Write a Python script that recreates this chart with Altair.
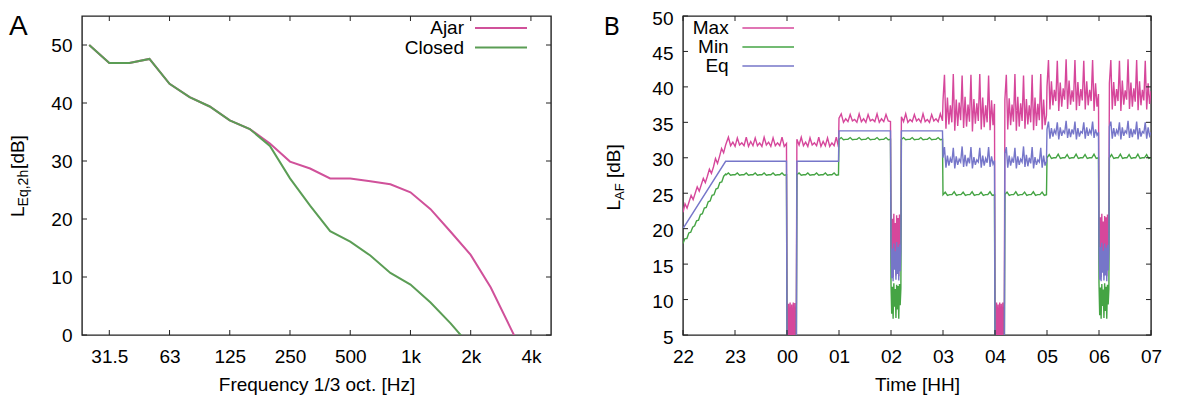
import json
import altair as alt
import pandas as pd

FONT = "Liberation Sans"
FRAME = "#222222"

# ---------------- Panel A : 1/3-octave spectrum ----------------
BAND_INDEX = list(range(23))
BAND_LABELS = ["25", "31.5", "40", "50", "63", "80", "100", "125", "160", "200",
               "250", "315", "400", "500", "630", "800", "1k", "1.25k", "1.6k",
               "2k", "2.5k", "3.15k", "4k"]
AJAR = [50.0, 46.9, 46.9, 47.6, 43.3, 41.0, 39.4, 37.0, 35.5, 33.0, 29.9, 28.7,
        27.0, 27.0, 26.5, 26.0, 24.6, 21.7, 17.8, 13.8, 8.2, 1.1, -6.0]
CLOSED = [50.0, 46.9, 46.9, 47.6, 43.3, 41.0, 39.4, 37.0, 35.5, 32.6, 27.0, 22.3,
          17.9, 16.1, 13.7, 10.7, 8.7, 5.6, 2.0, -2.0]
A_TICK_INDEX = [1, 4, 7, 10, 13, 16, 19, 22]
A_TICK_LABELS = ["31.5", "63", "125", "250", "500", "1k", "2k", "4k"]
A_Y_TICKS = [0, 10, 20, 30, 40, 50]
A_SERIES = ["Ajar", "Closed"]
A_COLORS = ["#d0519a", "#5b9d55"]

# ---------------- Panel B : time series (hours after 22:00) ----------------
B_HOUR_TICKS = list(range(10))
B_HOUR_LABELS = ["22", "23", "00", "01", "02", "03", "04", "05", "06", "07"]
B_Y_TICKS = [5, 10, 15, 20, 25, 30, 35, 40, 45, 50]
B_SERIES = ["Max", "Min", "Eq"]
B_COLORS = ["#d6479b", "#45a444", "#7676c9"]

MAX_SEGMENTS = [
    (0.0, 0.82, [22.3, 23.5, 22.9, 23.8, 24.7, 24.1, 25.0, 25.9, 25.3, 26.2, 27.1,
                 26.5, 27.4, 28.4, 27.8, 28.7, 29.9, 29.2, 30.2, 31.3, 30.7, 31.8]),
    (0.83, 1.99, [32.0, 32.9, 31.7, 32.2, 31.6, 32.8, 31.8, 32.1, 31.7, 32.9, 31.6, 32.3,
                  31.7, 32.8, 31.7, 32.1, 31.6, 32.9, 31.8, 32.2, 31.6, 32.8, 31.7, 32.1,
                  31.7, 32.9, 31.6, 32.0]),
    (2.0, 2.18, [9.6, 3.0, 9.4, 2.0, 9.6, 3.5, 9.3, 2.2, 9.6, 3.0, 9.5, 2.4, 9.6]),
    (2.19, 2.99, [32.6, 31.8, 32.9, 31.7, 32.2, 31.6, 32.8, 31.8, 32.1, 31.7, 32.9, 31.6,
                  32.3, 31.7, 32.8, 31.6, 32.1, 31.7, 32.9, 31.5]),
    (3.0, 3.99, [35.6, 36.2, 35.0, 35.5, 35.1, 36.1, 35.2, 35.4, 35.0, 36.2, 35.1, 35.5,
                 35.0, 36.1, 35.2, 35.4, 35.1, 36.2, 35.0, 35.5, 35.1, 36.1, 35.2, 35.1]),
    (4.0, 4.19, [22.0, 14.0, 21.4, 13.2, 22.1, 15.2, 20.8, 13.4, 21.9, 14.6, 21.5, 13.3,
                 22.0, 15.0, 21.2]),
    (4.2, 4.99, [35.8, 35.1, 36.2, 35.0, 35.4, 35.1, 36.1, 35.2, 35.5, 35.0, 36.2, 35.1,
                 35.4, 35.0, 36.1, 35.2, 35.5, 35.1, 36.2, 35.2]),
    (5.0, 5.99, [38.0, 41.7, 34.1, 38.5, 34.7, 37.4, 35.0, 41.8, 33.8, 38.2, 34.5, 37.8,
                 35.3, 41.6, 34.2, 38.6, 34.4, 37.5, 35.1, 41.7, 33.7, 38.3, 34.8, 37.7,
                 35.2, 41.8, 34.0, 38.5, 34.3, 37.4, 35.0, 41.6, 33.9, 38.1, 34.6, 37.6]),
    (6.0, 6.18, [9.5, 2.5, 9.6, 3.2, 9.3, 2.0, 9.6, 3.4, 9.4, 2.3, 9.6, 3.0, 9.5]),
    (6.19, 6.99, [38.2, 41.7, 34.0, 38.4, 34.6, 37.5, 35.1, 41.8, 33.8, 38.6, 34.4, 37.7,
                  35.2, 41.6, 34.1, 38.3, 34.7, 37.4, 35.0, 41.7, 33.9, 38.5, 34.5, 37.6,
                  35.3, 41.8, 34.0, 38.2, 34.6, 36.0]),
    (7.0, 7.99, [40.0, 43.8, 36.8, 40.8, 37.4, 39.6, 38.0, 43.7, 36.6, 40.6, 37.2, 39.8,
                 38.2, 43.9, 36.9, 40.9, 37.5, 39.5, 37.9, 43.8, 36.7, 40.7, 37.3, 39.7,
                 38.1, 43.7, 36.8, 40.8, 37.4, 39.6, 38.0, 43.8, 36.6, 40.5, 37.2, 39.0]),
    (8.0, 8.19, [22.0, 13.6, 21.6, 13.2, 22.1, 14.8, 21.0, 13.4, 21.8, 14.4, 21.6, 13.3,
                 22.0, 14.9, 21.3]),
    (8.2, 9.0, [40.5, 43.8, 36.8, 40.7, 37.3, 39.7, 38.0, 43.7, 36.6, 40.9, 37.5, 39.5,
                38.2, 43.9, 36.9, 40.6, 37.2, 39.8, 37.9, 43.8, 36.7, 40.8, 37.4, 39.6,
                38.1, 43.7, 36.8, 40.5, 37.6, 39.4]),
]

EQ_SEGMENTS = [
    (0.0, 0.82, [20.0, 29.5]),
    (0.83, 1.99, [29.5, 29.5]),
    (2.0, 2.18, [2.0, 2.0]),
    (2.19, 2.99, [29.5, 29.5]),
    (3.0, 3.99, [33.8, 33.8]),
    (4.0, 4.19, [18.0, 13.0, 17.2, 12.6, 17.9, 14.2, 16.8, 12.8, 18.1, 13.6, 17.4, 12.7,
                 17.8, 14.0, 16.9]),
    (4.2, 4.99, [33.8, 33.8]),
    (5.0, 5.99, [30.0, 31.5, 28.6, 30.3, 28.9, 29.9, 29.3, 31.4, 28.5, 30.2, 29.0, 29.8,
                 29.4, 31.6, 28.7, 30.4, 28.8, 30.0, 29.2, 31.5, 28.5, 30.1, 29.0, 29.7,
                 29.4, 31.4, 28.6, 30.3, 28.9, 29.9, 29.3, 31.5, 28.7, 30.2, 29.1, 29.6]),
    (6.0, 6.18, [2.0, 2.0]),
    (6.19, 6.99, [30.6, 31.5, 28.6, 30.3, 28.9, 29.9, 29.3, 31.4, 28.5, 30.2, 29.0, 29.8,
                  29.4, 31.6, 28.7, 30.4, 28.8, 30.0, 29.2, 31.5, 28.5, 30.1, 29.0, 29.7,
                  29.4, 31.4, 28.6, 30.3, 28.9, 29.5]),
    (7.0, 7.99, [34.0, 35.1, 32.7, 34.2, 33.0, 33.9, 33.4, 35.0, 32.6, 34.3, 33.1, 33.8,
                 33.5, 35.2, 32.8, 34.1, 32.9, 34.0, 33.3, 35.1, 32.6, 34.2, 33.0, 33.7,
                 33.5, 35.0, 32.7, 34.3, 33.1, 33.9, 33.4, 35.1, 32.8, 34.0, 33.2, 33.6]),
    (8.0, 8.19, [17.8, 12.8, 17.4, 12.6, 18.0, 13.8, 16.9, 12.7, 17.9, 13.4, 17.3, 12.6,
                 17.7, 14.1, 16.8]),
    (8.2, 9.0, [34.4, 35.1, 32.7, 34.2, 33.0, 33.9, 33.4, 35.0, 32.6, 34.3, 33.1, 33.8,
                33.5, 35.2, 32.8, 34.1, 32.9, 34.0, 33.3, 35.1, 32.6, 34.2, 33.0, 33.7,
                33.5, 35.0, 32.7, 34.3, 33.1, 33.6]),
]

MIN_SEGMENTS = [
    (0.0, 0.82, [17.9, 18.6, 18.6, 19.4, 19.5, 20.2, 20.4, 21.1, 21.2, 22.0, 22.1, 22.9,
                 23.0, 23.8, 23.9, 24.7, 24.8, 25.6, 25.7, 26.5, 26.6, 27.4, 27.7]),
    (0.83, 1.99, [27.6, 27.85, 27.55, 27.6, 27.6, 27.85, 27.55, 27.6, 27.6, 27.85, 27.55,
                  27.6, 27.6, 27.85, 27.55, 27.6, 27.6, 27.85, 27.55, 27.6, 27.6, 27.85,
                  27.55, 27.6, 27.6, 27.85, 27.55, 27.6]),
    (2.0, 2.18, [2.0, 2.0]),
    (2.19, 2.99, [27.6, 27.85, 27.55, 27.6, 27.6, 27.85, 27.55, 27.6, 27.6, 27.85, 27.55,
                  27.6, 27.6, 27.85, 27.55, 27.6, 27.6, 27.85, 27.55, 27.6]),
    (3.0, 3.99, [32.6, 32.85, 32.55, 32.6, 32.6, 32.85, 32.55, 32.6, 32.6, 32.85, 32.55,
                 32.6, 32.6, 32.85, 32.55, 32.6, 32.6, 32.85, 32.55, 32.6, 32.6, 32.85,
                 32.55, 32.6]),
    (4.0, 4.19, [12.2, 8.0, 11.8, 7.3, 12.3, 9.0, 11.5, 7.4, 12.1, 8.6, 11.9, 7.3, 12.2,
                 9.2, 11.6]),
    (4.2, 4.99, [32.6, 32.85, 32.55, 32.6, 32.6, 32.85, 32.55, 32.6, 32.6, 32.85, 32.55,
                 32.6, 32.6, 32.85, 32.55, 32.6, 32.6, 32.85, 32.55, 32.6]),
    (5.0, 5.99, [24.8, 25.15, 24.7, 24.8, 24.8, 25.2, 24.7, 24.8, 24.8, 25.15, 24.7, 24.8,
                 24.8, 25.2, 24.7, 24.8, 24.8, 25.15, 24.7, 24.8, 24.8, 25.2, 24.7, 24.8]),
    (6.0, 6.18, [2.0, 2.0]),
    (6.19, 6.99, [24.8, 25.15, 24.7, 24.8, 24.8, 25.2, 24.7, 24.8, 24.8, 25.15, 24.7,
                  24.8, 24.8, 25.2, 24.7, 24.8, 24.8, 25.15, 24.7, 24.8]),
    (7.0, 7.99, [30.0, 30.45, 29.9, 30.0, 30.0, 30.5, 29.9, 30.0, 30.0, 30.45, 29.9, 30.0,
                 30.0, 30.5, 29.9, 30.0, 30.0, 30.45, 29.9, 30.0, 30.0, 30.5, 29.9, 30.0]),
    (8.0, 8.19, [12.3, 7.8, 11.7, 7.3, 12.2, 9.1, 11.4, 7.4, 12.3, 8.4, 11.8, 7.3, 12.1,
                 9.3, 11.5]),
    (8.2, 9.0, [30.0, 30.45, 29.9, 30.0, 30.0, 30.5, 29.9, 30.0, 30.0, 30.45, 29.9, 30.0,
                30.0, 30.5, 29.9, 30.0, 30.0, 30.45, 29.9, 30.0]),
]

# ---------------- helpers ----------------
W_A, W_B, H = 469, 468, 319
TICK = 5


def seg_frame(segments):
    ts, vs = [], []
    for t0, t1, vals in segments:
        n = len(vals)
        for i, v in enumerate(vals):
            ts.append(t0 + (t1 - t0) * i / (n - 1))
            vs.append(v)
    return pd.DataFrame({"x": ts, "y": vs})


def axis_common(**kw):
    base = dict(ticks=False, tickSize=0, domain=False, grid=False,
                labelFont=FONT, labelFontSize=19, labelColor="black",
                titleFont=FONT, titleFontSize=19, titleColor="black",
                titleFontWeight="normal", labelOverlap=False, labelFlush=False)
    base.update(kw)
    return alt.Axis(**base)


def one(label):
    return pd.DataFrame({"t": [label]})


def frame_ticks(xenc, yenc, xvals, yvals, w):
    dx = pd.DataFrame({"x": xvals})
    dy = pd.DataFrame({"y": yvals})
    r = dict(color=FRAME, strokeWidth=1)
    return [
        alt.Chart(dx).mark_rule(**r).encode(x=xenc, y=alt.value(H), y2=alt.value(H - TICK)),
        alt.Chart(dx).mark_rule(**r).encode(x=xenc, y=alt.value(0), y2=alt.value(TICK)),
        alt.Chart(dy).mark_rule(**r).encode(y=yenc, x=alt.value(0), x2=alt.value(TICK)),
        alt.Chart(dy).mark_rule(**r).encode(y=yenc, x=alt.value(w), x2=alt.value(w - TICK)),
    ]


def text_at(label, x, y, size=19, align="left", baseline="alphabetic", angle=0, font=FONT):
    props = dict(align=align, baseline=baseline, font=font, fontSize=size, color="black")
    if angle:
        props["angle"] = angle
    return alt.Chart(one(label)).mark_text(**props).encode(
        x=alt.value(x), y=alt.value(y), text="t:N")


def legend_entry(label, color, xt, x1, x2, y, width):
    return [
        text_at(label, xt, y, align="right", baseline="middle"),
        alt.Chart(one(label)).mark_rule(color=color, strokeWidth=width).encode(
            x=alt.value(x1), x2=alt.value(x2), y=alt.value(y)),
    ]


# ---------------- Panel A ----------------
xA = alt.X("x:Q",
           scale=alt.Scale(domain=[-0.36, 23.0], nice=False, zero=False),
           axis=axis_common(values=A_TICK_INDEX,
                            labelExpr="%s[indexof(%s, datum.value)]" % (
                                json.dumps(A_TICK_LABELS), json.dumps(A_TICK_INDEX)),
                            title="Frequency 1/3 oct. [Hz]",
                            labelPadding=12.5, titlePadding=9))
yA = alt.Y("y:Q",
           scale=alt.Scale(domain=[0, 55], nice=False, zero=False),
           axis=axis_common(values=A_Y_TICKS, title=None, labelPadding=10))

layers_a = []
for name, vals, col in zip(A_SERIES, [AJAR, CLOSED], A_COLORS):
    df = pd.DataFrame({"x": BAND_INDEX[:len(vals)], "y": vals})
    layers_a.append(alt.Chart(df).mark_line(color=col, strokeWidth=2, clip=True)
                    .encode(x=xA, y=yA))
layers_a += frame_ticks(xA, yA, A_TICK_INDEX, A_Y_TICKS, W_A)
for i, (name, col) in enumerate(zip(A_SERIES, A_COLORS)):
    layers_a += legend_entry(name, col, 382, 393, 445, 12 + 19.6 * i, 2)
layers_a.append(text_at("A", -73, 18.5, size=28))
layers_a.append(text_at("L", -58, 201, angle=270))
layers_a.append(text_at("Eq,2h", -54, 190.4, size=14, angle=270))
layers_a.append(text_at("[dB]", -58, 152.9, angle=270))

panel_a = alt.layer(*layers_a).properties(width=W_A, height=H)

# ---------------- Panel B ----------------
xB = alt.X("x:Q",
           scale=alt.Scale(domain=[0, 9], nice=False, zero=False),
           axis=axis_common(values=B_HOUR_TICKS,
                            labelExpr="%s[datum.value]" % json.dumps(B_HOUR_LABELS),
                            title="Time [HH]", labelPadding=12.5, titlePadding=9))
yB = alt.Y("y:Q",
           scale=alt.Scale(domain=[5, 50], nice=False, zero=False),
           axis=axis_common(values=B_Y_TICKS, title=None, labelPadding=10, labelOffset=2))

layers_b = []
for segs, col in zip([MAX_SEGMENTS, MIN_SEGMENTS, EQ_SEGMENTS], B_COLORS):
    layers_b.append(alt.Chart(seg_frame(segs)).mark_line(color=col, strokeWidth=1.4, clip=True)
                    .encode(x=xB, y=yB))
layers_b += frame_ticks(xB, yB, B_HOUR_TICKS, B_Y_TICKS, W_B)
for i, (name, col) in enumerate(zip(B_SERIES, B_COLORS)):
    layers_b += legend_entry(name, col, 45.7, 59.4, 111, 12 + 19 * i, 1.5)
layers_b.append(text_at("B", -79.6, 18.5, size=25, font="Noto Sans"))
layers_b.append(text_at("L", -63, 194.5, angle=270))
layers_b.append(text_at("AF", -59, 183.9, size=13, angle=270))
layers_b.append(text_at("[dB]", -63, 162, angle=270))

panel_b = alt.layer(*layers_b).properties(width=W_B, height=H)

chart = (alt.hconcat(panel_a, panel_b, spacing=132, bounds="flush")
         .configure_view(stroke=FRAME, strokeWidth=1.4)
         .properties(padding={"left": 0, "top": 0, "right": 5, "bottom": 2},
                     background="white"))

chart.save("out.html", embed_options={"renderer": "svg", "actions": False})
